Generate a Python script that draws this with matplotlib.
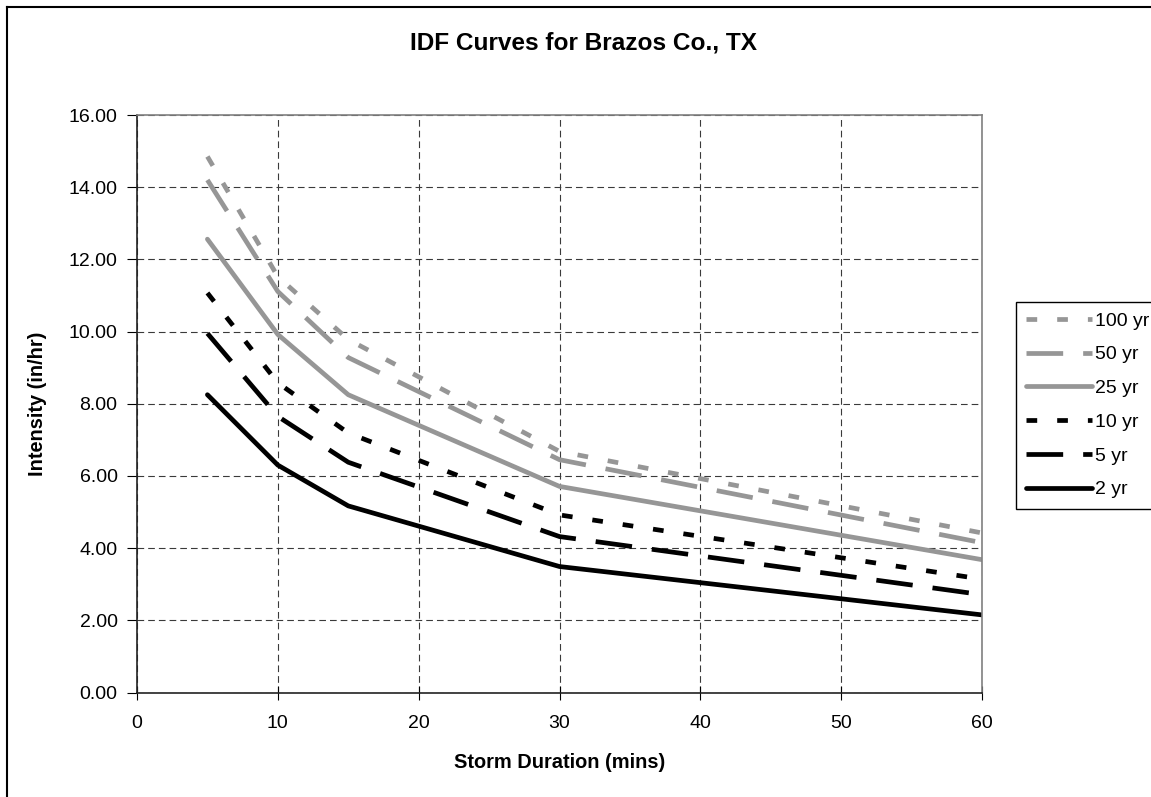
import matplotlib.pyplot as plt
from matplotlib.lines import Line2D

plt.rcParams['font.family'] = ['Liberation Sans', 'DejaVu Sans']
plt.rcParams['lines.scale_dashes'] = False

# storm durations (mins) and intensities (in/hr) for each return period
duration = [5, 10, 15, 30, 60]
i_100yr = [14.85, 11.52, 9.78, 6.68, 4.42]
i_50yr = [14.20, 11.11, 9.28, 6.45, 4.15]
i_25yr = [12.56, 9.92, 8.25, 5.71, 3.68]
i_10yr = [11.07, 8.58, 7.19, 4.92, 3.14]
i_5yr = [9.95, 7.65, 6.38, 4.32, 2.71]
i_2yr = [8.25, 6.30, 5.17, 3.49, 2.15]

gray = '#969696'
dots = (0, (7.7, 14.4))
longdash = (0, (26.4, 14.4))

fig = plt.figure(figsize=(11.51, 7.97), dpi=100)
ax = fig.add_axes([137 / 1151, 1 - 692.5 / 797, (982 - 137) / 1151, (692.5 - 115) / 797])

series = [
    ('100 yr', i_100yr, gray, dots),
    ('50 yr', i_50yr, gray, longdash),
    ('25 yr', i_25yr, gray, '-'),
    ('10 yr', i_10yr, 'black', dots),
    ('5 yr', i_5yr, 'black', longdash),
    ('2 yr', i_2yr, 'black', '-'),
]
handles = []
for name, vals, col, ls in series:
    ln, = ax.plot(duration, vals, color=col, linestyle=ls, lw=3.4,
                  dash_capstyle='butt', solid_capstyle='round', label=name)
    handles.append(ln)

ax.set_xlim(0, 60)
ax.set_ylim(0, 16)
ax.set_xticks(range(0, 61, 10))
ax.set_yticks(range(0, 17, 2))
ax.set_yticklabels(['%.2f' % v for v in range(0, 17, 2)])
ax.grid(True, color='#3a3a3a', lw=0.8, linestyle=(0, (4.8, 2.9)))
ax.set_axisbelow(True)

for side in ['top', 'right']:
    ax.spines[side].set_color('#808080')
    ax.spines[side].set_linewidth(1.2)
for side in ['left', 'bottom']:
    ax.spines[side].set_color('#222222')
    ax.spines[side].set_linewidth(1.2)

ax.tick_params(axis='x', direction='inout', length=10, width=0.8, labelsize=14, pad=11)
ax.tick_params(axis='y', direction='out', length=7, width=0.8, labelsize=14, pad=7)

ax.set_xlabel('Storm Duration (mins)', fontsize=14.4, fontweight='bold')
ax.xaxis.set_label_coords(0.5, -0.105)
ax.set_ylabel('Intensity (in/hr)', fontsize=14.4, fontweight='bold')
ax.yaxis.set_label_coords(-0.1065, 0.5)

fig.text(584 / 1151, 1 - 43 / 797, 'IDF Curves for Brazos Co., TX',
         fontsize=17.6, fontweight='bold', ha='center', va='center')

leg = fig.legend(handles=handles, loc='upper left',
                 bbox_to_anchor=(1016 / 1151, 1 - 302 / 797),
                 fontsize=14, handlelength=3.4, handletextpad=0.15,
                 labelspacing=0.83, borderpad=0.52, borderaxespad=0,
                 fancybox=False, framealpha=1, edgecolor='black')
leg.get_frame().set_linewidth(1.0)

# chart area border (left and top edges visible)
fig.add_artist(Line2D([7 / 1151, 7 / 1151], [0, 1 - 7 / 797], color='black', lw=1.5,
                      transform=fig.transFigure))
fig.add_artist(Line2D([7 / 1151, 1], [1 - 7 / 797, 1 - 7 / 797], color='black', lw=1.5,
                      transform=fig.transFigure))

fig.savefig('out.png', dpi=100)
